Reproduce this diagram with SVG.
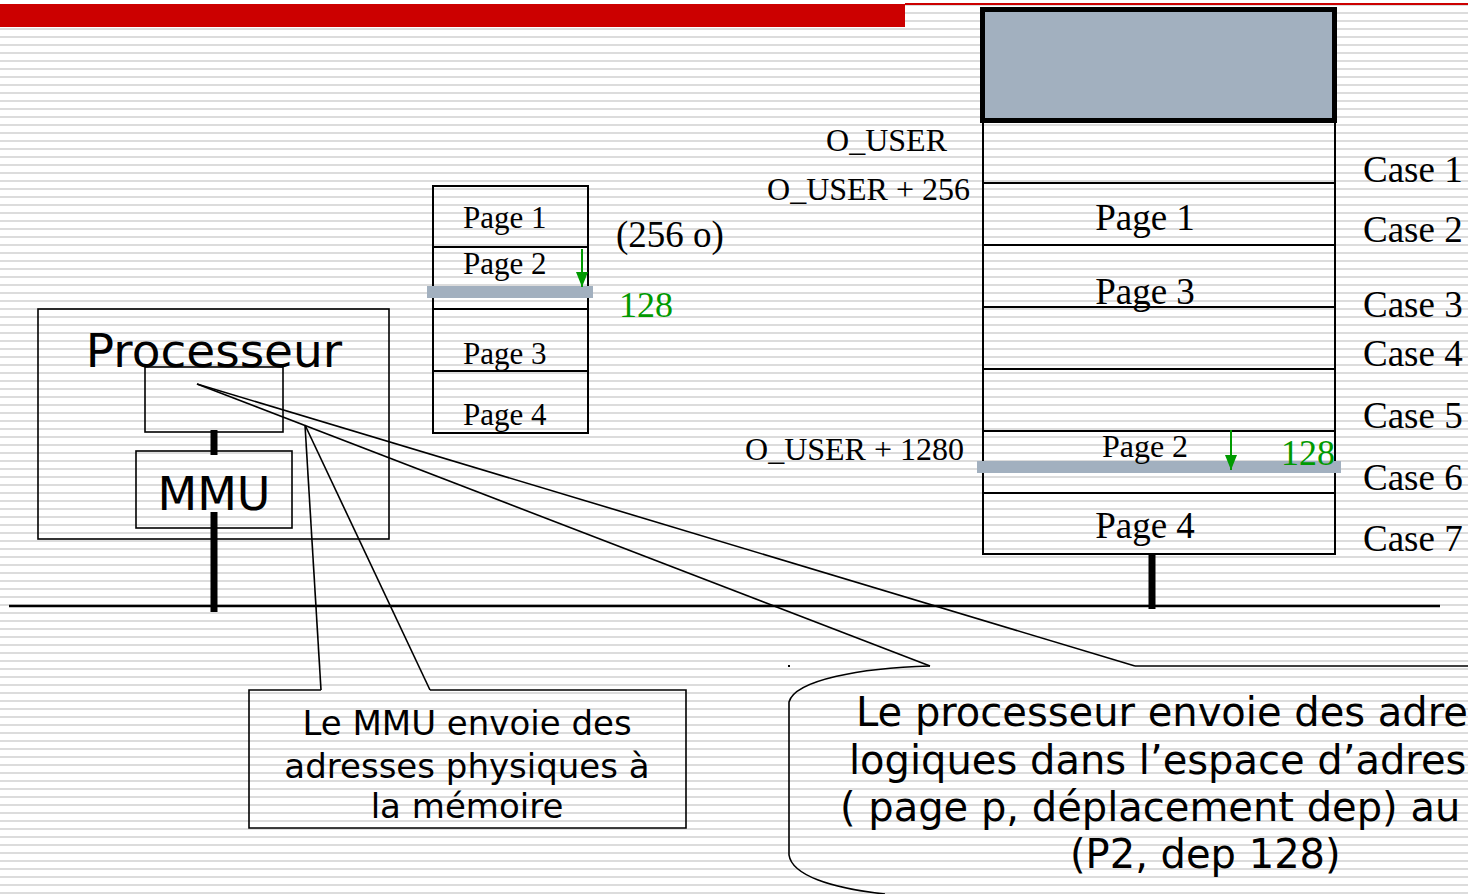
<svg xmlns="http://www.w3.org/2000/svg" width="1468" height="894" viewBox="0 0 1468 894">
  <defs>
    <pattern id="ruled" width="8" height="8" patternUnits="userSpaceOnUse">
      <rect width="8" height="8" fill="#ffffff"/>
      <rect y="4" width="8" height="2" fill="#dcdcdc"/>
    </pattern>
    <marker id="greenHead" markerWidth="15" markerHeight="12" refX="15" refY="6" orient="auto" markerUnits="userSpaceOnUse" viewBox="0 0 15 12">
      <path d="M0,0 L15,6 L0,12 Z" fill="#009a00"/>
    </marker>
    <style>
      .box { fill: none; stroke: #000; stroke-width: 2; }
      .thin { fill: none; stroke: #000; stroke-width: 1.6; }
      .sans { font-family: "DejaVu Sans", Verdana, sans-serif; fill: #000; }
      .serif { font-family: "Liberation Serif", "Times New Roman", serif; fill: #000; }
      .green { fill: #009a00; }
      .band { fill: #a2b0bf; }
      .stem { stroke: #000; stroke-width: 7; }
      .offset { stroke: #009a00; stroke-width: 2; marker-end: url(#greenHead); }
    </style>
  </defs>

  <!-- ruled background -->
  <rect width="1468" height="894" fill="url(#ruled)"/>

  <!-- title bar -->
  <g id="title-bar">
    <rect x="0" y="4" width="905" height="23" fill="#cc0000"/>
    <rect x="905" y="3" width="563" height="2" fill="#cc0000"/>
  </g>

  <!-- system bus -->
  <g id="bus">
    <line x1="9" y1="606" x2="1440" y2="606" stroke="#000" stroke-width="2.5"/>
  </g>

  <!-- processor with its MMU -->
  <g id="processeur">
    <rect class="thin" x="38" y="309" width="351" height="230"/>
    <text class="sans" x="214" y="367" font-size="47" text-anchor="middle">Processeur</text>
    <rect class="thin" x="145" y="367" width="138" height="65"/>
    <line class="stem" x1="214" y1="430" x2="214" y2="455"/>
  </g>
  <g id="mmu">
    <rect class="thin" x="136" y="451" width="156" height="77"/>
    <text class="sans" x="214" y="510" font-size="46" text-anchor="middle">MMU</text>
    <line class="stem" x1="214" y1="512" x2="214" y2="612"/>
  </g>

  <!-- logical address space: 4 pages of 256 bytes -->
  <g id="espace-logique">
    <rect class="box" x="433" y="186" width="155" height="247"/>
    <line class="box" x1="433" y1="247" x2="588" y2="247"/>
    <line class="box" x1="433" y1="309" x2="588" y2="309"/>
    <line class="box" x1="433" y1="371" x2="588" y2="371"/>
    <rect class="band" x="427" y="286" width="166" height="12"/>
    <text class="serif" x="463" y="228" font-size="31">Page 1</text>
    <text class="serif" x="463" y="274" font-size="31">Page 2</text>
    <text class="serif" x="463" y="364" font-size="31">Page 3</text>
    <text class="serif" x="463" y="425" font-size="31">Page 4</text>
    <line class="offset" x1="582" y1="249" x2="582" y2="287"/>
    <text class="serif" x="616" y="247" font-size="37">(256 o)</text>
    <text class="serif green" x="619" y="317" font-size="36">128</text>
  </g>

  <!-- physical memory frames -->
  <g id="memoire">
    <rect x="982.5" y="9.5" width="352" height="111" fill="#a2b0bf" stroke="#000" stroke-width="5"/>
    <line class="box" x1="983" y1="121" x2="983" y2="555"/>
    <line class="box" x1="1335" y1="121" x2="1335" y2="555"/>
    <line class="box" x1="983" y1="183" x2="1335" y2="183"/>
    <line class="box" x1="983" y1="245" x2="1335" y2="245"/>
    <line class="box" x1="983" y1="307" x2="1335" y2="307"/>
    <line class="box" x1="983" y1="369" x2="1335" y2="369"/>
    <line class="box" x1="983" y1="431" x2="1335" y2="431"/>
    <line class="box" x1="983" y1="493" x2="1335" y2="493"/>
    <line class="box" x1="982" y1="554" x2="1336" y2="554"/>
    <rect class="band" x="977" y="461" width="364" height="12"/>
    <text class="serif" x="1145" y="230" font-size="37" text-anchor="middle">Page 1</text>
    <text class="serif" x="1145" y="304" font-size="37" text-anchor="middle">Page 3</text>
    <text class="serif" x="1145" y="457" font-size="32" text-anchor="middle">Page 2</text>
    <text class="serif" x="1145" y="538" font-size="37" text-anchor="middle">Page 4</text>
    <line class="offset" x1="1231" y1="430" x2="1231" y2="470"/>
    <text class="serif green" x="1281" y="465" font-size="36">128</text>
    <line class="stem" x1="1152" y1="554" x2="1152" y2="609"/>
  </g>

  <!-- frame addresses -->
  <g id="adresses">
    <text class="serif" x="947" y="151" font-size="32" text-anchor="end">O_USER</text>
    <text class="serif" x="970" y="200" font-size="32" text-anchor="end">O_USER + 256</text>
    <text class="serif" x="964" y="460" font-size="32" text-anchor="end">O_USER + 1280</text>
  </g>

  <!-- frame numbers -->
  <g id="cases">
    <text class="serif" x="1363" y="182" font-size="37">Case 1</text>
    <text class="serif" x="1363" y="242" font-size="37">Case 2</text>
    <text class="serif" x="1363" y="317" font-size="37">Case 3</text>
    <text class="serif" x="1363" y="366" font-size="37">Case 4</text>
    <text class="serif" x="1363" y="428" font-size="37">Case 5</text>
    <text class="serif" x="1363" y="490" font-size="37">Case 6</text>
    <text class="serif" x="1363" y="551" font-size="37">Case 7</text>
  </g>

  <!-- callout pointers -->
  <g id="connecteurs">
    <line class="thin" x1="197" y1="384" x2="930" y2="666"/>
    <line class="thin" x1="197" y1="384" x2="1135" y2="666"/>
    <line class="thin" x1="305" y1="425" x2="321" y2="690"/>
    <line class="thin" x1="305" y1="425" x2="430" y2="690"/>
  </g>

  <!-- MMU note -->
  <g id="note-mmu">
    <path class="thin" d="M321,690 L249,690 L249,828 L686,828 L686,690 L430,690"/>
    <text class="sans" x="467" y="735" font-size="34" text-anchor="middle">Le MMU envoie des</text>
    <text class="sans" x="467" y="778" font-size="34" text-anchor="middle">adresses physiques à</text>
    <text class="sans" x="467" y="818" font-size="34" text-anchor="middle">la mémoire</text>
  </g>

  <!-- processor note -->
  <g id="note-processeur">
    <path class="thin" d="M930,666 C860,668 795,680 789,702 L789,855 C792,875 830,888 885,894"/>
    <line class="thin" x1="1135" y1="666" x2="1468" y2="666"/>
    <rect x="788" y="665" width="2" height="2" fill="#000"/>
    <text class="sans" x="856" y="726" font-size="40">Le processeur envoie des adres</text>
    <text class="sans" x="849" y="774" font-size="40">logiques dans l’espace d’adress</text>
    <text class="sans" x="840" y="821" font-size="40">( page p, déplacement dep) au</text>
    <text class="sans" x="1070" y="868" font-size="40">(P2, dep 128)</text>
  </g>
</svg>
